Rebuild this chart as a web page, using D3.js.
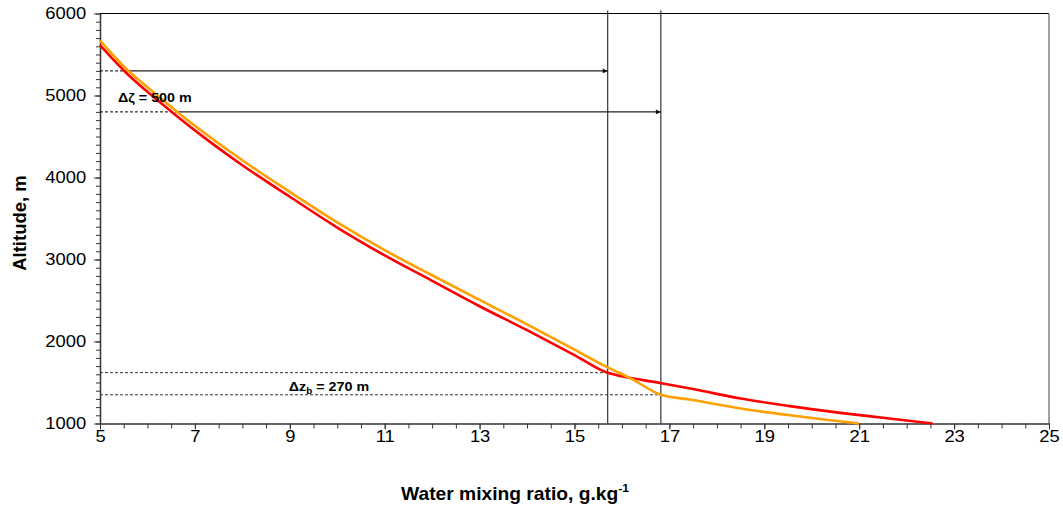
<!DOCTYPE html>
<html><head><meta charset="utf-8">
<script src="https://cdn.jsdelivr.net/npm/d3@7"></script>
<style>
body{margin:0;background:#fff;}
svg{display:block;font-family:"Liberation Sans",Arial,Helvetica,sans-serif;}
</style></head><body>
<svg id="chart" width="1063" height="510"></svg>
<script>
// Profile 1 (red): water mixing ratio (g/kg) vs altitude (m)
const redMix = [5.0, 5.6, 6.0, 6.63, 7, 8, 9, 10, 11, 12, 13, 14, 15, 15.7, 16.0, 16.8, 17.5, 18.5, 19.5, 20.6, 21.5, 22.55];
const redAlt = [5615, 5250, 5045, 4745, 4575, 4150, 3765, 3390, 3050, 2740, 2430, 2138, 1835, 1618, 1575, 1495, 1420, 1305, 1215, 1130, 1070, 1000];
// Profile 2 (orange)
const orangeMix = [5.0, 5.6, 6.0, 6.63, 7, 8, 9, 10, 11, 12, 13, 14, 15, 15.7, 16.2, 16.82, 17.4, 18.5, 19.5, 20.3, 21.0];
const orangeAlt = [5670, 5300, 5100, 4800, 4630, 4210, 3825, 3452, 3113, 2808, 2507, 2208, 1900, 1685, 1545, 1350, 1295, 1183, 1103, 1045, 1000];

// Reference levels and mixing-ratio markers
const markMix = [15.70, 16.82];          // vertical marker lines
const arrowAlt = [5300, 4800];           // upper level pair (Δζ = 500 m)
const arrowStart = [5.6, 6.63];          // where each level meets the profile
const baseAlt = [1620, 1350];            // lower level pair (Δz_b = 270 m)

// Axis ticks
const xTicks = [5, 7, 9, 11, 13, 15, 17, 19, 21, 23, 25];
const yTicks = [1000, 2000, 3000, 4000, 5000, 6000];

const svg = d3.select("#chart");
const P = {left: 100, right: 1049, top: 13.5, bottom: 423.5};
const x = d3.scaleLinear().domain([5, 25]).range([P.left, P.right]);
const y = d3.scaleLinear().domain([1000, 6000]).range([P.bottom, P.top]);
const stretch = "scale(1.15,1)";

// plot frame: top and right edges
svg.append("line").attr("x1", P.left).attr("x2", P.right).attr("y1", P.top).attr("y2", P.top)
  .attr("stroke", "#000").attr("stroke-width", 1.2);
svg.append("line").attr("x1", P.right).attr("x2", P.right).attr("y1", P.top).attr("y2", P.bottom)
  .attr("stroke", "#808080").attr("stroke-width", 1.5);

// y axis: minor ticks every 100 m, labelled majors every 1000 m
svg.append("g").attr("transform", `translate(${P.left},0)`)
  .call(d3.axisLeft(y).tickValues(d3.range(1000, 6001, 100)).tickSize(4).tickSizeOuter(0).tickFormat(""))
  .call(g => g.select(".domain").remove())
  .call(g => g.selectAll("line").attr("stroke", "#333"));
const gy = svg.append("g").attr("transform", `translate(${P.left},0)`)
  .call(d3.axisLeft(y).tickValues(yTicks).tickSize(6).tickSizeOuter(0).tickPadding(6).tickFormat(d3.format("d")));
gy.select(".domain").attr("stroke", "#333").attr("stroke-width", 1.5);
gy.selectAll("line").attr("stroke", "#333");
gy.selectAll("text").attr("font-size", 16).attr("fill", "#000")
  .attr("font-family", "Liberation Sans, Arial, sans-serif").attr("transform", stretch);

// x axis: minor ticks every 0.5, labelled majors every 2
svg.append("g").attr("transform", `translate(0,${P.bottom})`)
  .call(d3.axisBottom(x).tickValues(d3.range(5, 25.01, 0.5)).tickSize(5).tickSizeOuter(0).tickFormat(""))
  .call(g => g.select(".domain").remove())
  .call(g => g.selectAll("line").attr("stroke", "#333"));
const gx = svg.append("g").attr("transform", `translate(0,${P.bottom})`)
  .call(d3.axisBottom(x).tickValues(xTicks).tickSize(6).tickSizeOuter(0).tickPadding(1));
gx.select(".domain").attr("stroke", "#333").attr("stroke-width", 1.5);
gx.selectAll("line").attr("stroke", "#333");
gx.selectAll("text").attr("font-size", 16).attr("fill", "#000")
  .attr("font-family", "Liberation Sans, Arial, sans-serif").attr("transform", stretch);

// marker definition for arrow heads
svg.append("defs").append("marker")
  .attr("id", "head").attr("viewBox", "0 0 10 10").attr("refX", 10).attr("refY", 5)
  .attr("markerWidth", 7).attr("markerHeight", 5).attr("markerUnits", "userSpaceOnUse")
  .attr("orient", "auto")
  .append("path").attr("d", "M0,0L10,5L0,10z").attr("fill", "#111");

// vertical markers
svg.selectAll(".vmark").data(markMix).join("line").attr("class", "vmark")
  .attr("x1", d => x(d)).attr("x2", d => x(d))
  .attr("y1", P.top - 3).attr("y2", P.bottom)
  .attr("stroke", "#222").attr("stroke-width", 1.1);

// upper levels: dashed from the axis to the profile, arrow onward to the marker
svg.selectAll(".adash").data(arrowAlt).join("line").attr("class", "adash")
  .attr("x1", x(5)).attr("x2", (d, i) => x(arrowStart[i]))
  .attr("y1", d => y(d)).attr("y2", d => y(d))
  .attr("stroke", "#000").attr("stroke-width", 1).attr("stroke-dasharray", "3,2");
svg.selectAll(".arrow").data(arrowAlt).join("line").attr("class", "arrow")
  .attr("x1", (d, i) => x(arrowStart[i])).attr("x2", (d, i) => x(markMix[i]))
  .attr("y1", d => y(d)).attr("y2", d => y(d))
  .attr("stroke", "#222").attr("stroke-width", 1.3).attr("marker-end", "url(#head)");

// lower levels: dashed from the axis to the marker
svg.selectAll(".bdash").data(baseAlt).join("line").attr("class", "bdash")
  .attr("x1", x(5)).attr("x2", (d, i) => x(markMix[i]))
  .attr("y1", d => y(d)).attr("y2", d => y(d))
  .attr("stroke", "#333").attr("stroke-width", 1).attr("stroke-dasharray", "3,2");

// profiles
const line = d3.line().x(d => x(d[0])).y(d => y(d[1])).curve(d3.curveMonotoneX);
svg.append("path").datum(d3.zip(redMix, redAlt)).attr("d", line)
  .attr("fill", "none").attr("stroke", "#ff0000").attr("stroke-width", 2.6);
svg.append("path").datum(d3.zip(orangeMix, orangeAlt)).attr("d", line)
  .attr("fill", "none").attr("stroke", "#ffa000").attr("stroke-width", 2.6);

// annotations
svg.append("text").attr("transform", `translate(${x(5.38)},${y(4925)}) scale(1.1,1)`)
  .attr("font-size", 13).attr("font-weight", "bold").text("Δζ = 500 m");
const tz = svg.append("text").attr("transform", `translate(${x(8.98)},${y(1395)}) scale(1.1,1)`)
  .attr("font-size", 13).attr("font-weight", "bold");
tz.append("tspan").text("Δz");
tz.append("tspan").attr("font-size", 9).attr("dy", 3).text("b");
tz.append("tspan").attr("dy", -3).text(" = 270 m");

// axis titles
svg.append("text").attr("transform", "translate(26,223) rotate(-90)")
  .attr("text-anchor", "middle").attr("font-size", 18.5).attr("font-weight", "bold").text("Altitude, m");
const xt = svg.append("text").attr("transform", "translate(515,500) scale(1.1,1)")
  .attr("text-anchor", "middle").attr("font-size", 17.5).attr("font-weight", "bold");
xt.append("tspan").text("Water mixing ratio, g.kg");
xt.append("tspan").attr("font-size", 11).attr("dy", -8).text("-1");
</script>
</body></html>
